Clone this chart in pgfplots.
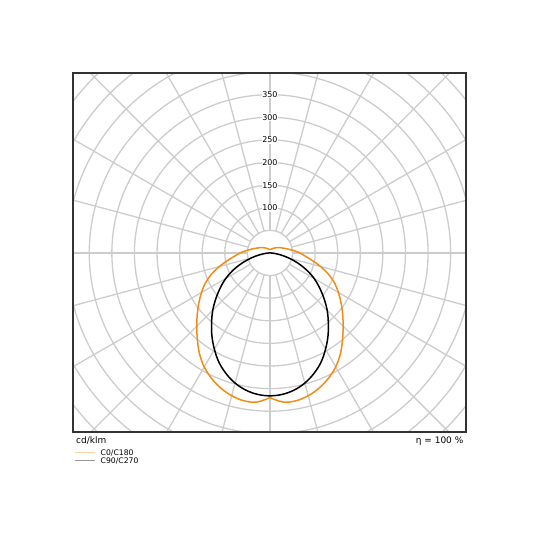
\documentclass[border=0pt]{standalone}
\usepackage{pgfplots}
\pgfplotsset{compat=1.18}
\usepackage{fontspec}
\setmainfont{DejaVu Sans}
\definecolor{ora}{RGB}{242,140,20}
\definecolor{gridc}{RGB}{204,204,204}
\definecolor{boxc}{RGB}{51,51,51}

\begin{document}
\begin{tikzpicture}[x=1bp,y=1bp]
\path (0,0) rectangle (540,540);
\begin{axis}[
  at={(73bp,108bp)}, anchor=south west,
  scale only axis, width=393bp, height=359bp,
  xmin=-436, xmax=434, ymin=-396, ymax=398,
  xtick=\empty, ytick=\empty,
  axis line style={boxc, line width=1.3bp},
  axis on top,
]
% grid: circles every 50 cd/klm, spokes every 15 deg
\pgfplotsinvokeforeach{50,100,...,650}{
  \draw[gridc, line width=1.3bp] (axis cs:0,0) circle[radius=#1];
}
\pgfplotsinvokeforeach{0,15,...,345}{
  \draw[gridc, line width=1.3bp] (axis cs:{50*cos(#1)},{50*sin(#1)}) -- (axis cs:{800*cos(#1)},{800*sin(#1)});
}
\pgfplotsinvokeforeach{100,150,...,350}{
  \node[fill=white, inner sep=0.8bp, font=\fontsize{8}{8}\selectfont] at (axis cs:0,#1) {#1};
}

% C0/C180 (angle in deg, cd/klm), two halves meeting at the notches
\addplot[ora, line width=1.5bp, data cs=polar, smooth, tension=0.6] coordinates {
(90,8) (80,8) (70,9) (60,11) (50,14) (40,18) (30,24) (25,27) (20,31) (15,37)
(10,44) (5,54) (0,66) (-5,78) (-10,95) (-15,116) (-20,138) (-25,158) (-30,175)
(-35,192) (-40,210) (-45,229) (-50,250) (-55,272) (-60,291) (-65,306) (-70,318)
(-75,327) (-80,332) (-85,331) (-90,320)
};
\addplot[ora, line width=1.5bp, data cs=polar, smooth, tension=0.6] coordinates {
(-90,320) (-95,331) (-100,332) (-105,327) (-110,318) (-115,306) (-120,291) (-125,272)
(-130,250) (-135,229) (-140,210) (-145,192) (-150,175) (-155,158) (-160,138)
(-165,116) (-170,95) (-175,78) (-180,66) (-185,54) (-190,44) (-195,37) (-200,31)
(-205,27) (-210,24) (-220,18) (-230,14) (-240,11) (-250,9) (-260,8) (-270,8)
};

% C90/C270
\addplot[black, line width=1.5bp, data cs=polar, smooth, tension=0.6] coordinates {
(0,0) (-5,8) (-10,23) (-15,43) (-20,66) (-25,90) (-30,113) (-35,134) (-40,156)
(-45,179) (-50,201) (-55,224) (-60,246) (-65,267) (-70,284) (-75,298) (-80,308)
(-85,314) (-90,316)
(-95,314) (-100,308) (-105,298) (-110,284) (-115,267) (-120,246) (-125,224)
(-130,201) (-135,179) (-140,156) (-145,134) (-150,113) (-155,90) (-160,66)
(-165,43) (-170,23) (-175,8) (-180,0)
};
\end{axis}

\node[anchor=base west, inner sep=0, font=\fontsize{9}{9}\selectfont] at (76,96.7) {cd/klm};
\node[anchor=base east, inner sep=0, font=\fontsize{9}{9}\selectfont] at (463.5,96.5) {η = 100 \%};

\draw[ora!40, line width=0.8bp] (75,87.7) -- (95,87.7);
\draw[black!40, line width=0.8bp] (75,80) -- (95,80);
\node[anchor=base west, inner sep=0, font=\fontsize{7.7}{7.7}\selectfont] at (100.5,84) {C0/C180};
\node[anchor=base west, inner sep=0, font=\fontsize{7.7}{7.7}\selectfont] at (100.5,76.3) {C90/C270};
\end{tikzpicture}
\end{document}
